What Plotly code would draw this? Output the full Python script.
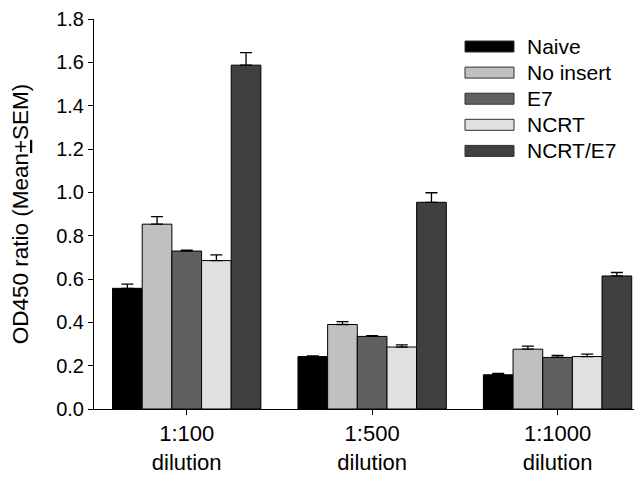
import plotly.graph_objects as go

categories = ["1:100<br>dilution", "1:500<br>dilution", "1:1000<br>dilution"]
series_names = ["Naive", "No insert", "E7", "NCRT", "NCRT/E7"]
series_colors = ["#000000", "#c0c0c0", "#606060", "#e0e0e0", "#404040"]
naive = [0.557, 0.242, 0.158]
no_insert = [0.853, 0.390, 0.276]
e7 = [0.729, 0.335, 0.238]
ncrt = [0.685, 0.286, 0.242]
ncrt_e7 = [1.587, 0.954, 0.614]
naive_sem = [0.019, 0.003, 0.006]
no_insert_sem = [0.035, 0.013, 0.014]
e7_sem = [0.004, 0.003, 0.009]
ncrt_sem = [0.026, 0.010, 0.011]
ncrt_e7_sem = [0.058, 0.044, 0.016]
yticks = [0.0, 0.2, 0.4, 0.6, 0.8, 1.0, 1.2, 1.4, 1.6, 1.8]

values = [naive, no_insert, e7, ncrt, ncrt_e7]
sems = [naive_sem, no_insert_sem, e7_sem, ncrt_sem, ncrt_e7_sem]

FONT = "Liberation Sans, Arial, sans-serif"
OFF = 8  # default page body margin
W, H = 642 - OFF, 483 - OFF
ML, MR, MT, MB = 94 - OFF, 1, 19 - OFF, 74

fig = go.Figure()
xpos = list(range(len(categories)))
for name, color, vals, err in zip(series_names, series_colors, values, sems):
    fig.add_trace(go.Bar(
        x=xpos, y=vals, name=name,
        marker=dict(color=color, line=dict(color="#000000", width=1)),
        error_y=dict(type="data", symmetric=False, array=err,
                     arrayminus=[0] * len(err), color="#000000",
                     thickness=1.3, width=6),
        showlegend=False,
    ))

# manual legend (wide swatches); positions given in page pixels
pw, ph = W - ML - MR, H - MT - MB
def px2paper(x, y):
    return (x - OFF - ML) / pw, (H - MB - (y - OFF)) / ph

row0, dy = 46.5, 26.1
for i, (name, color) in enumerate(zip(series_names, series_colors)):
    cy = row0 + i * dy
    x0, y0 = px2paper(465, cy - 5.5)
    x1, y1 = px2paper(514, cy + 5.5)
    fig.add_shape(type="rect", xref="paper", yref="paper",
                  x0=x0, x1=x1, y0=y1, y1=y0,
                  fillcolor=color, line=dict(color="#303030", width=1))
    tx, ty = px2paper(525, cy)
    fig.add_annotation(xref="paper", yref="paper", x=tx, y=ty,
                       text=name, showarrow=False, xanchor="left",
                       yanchor="middle",
                       font=dict(family=FONT, size=21, color="#000000"))

fig.update_layout(
    width=W, height=H,
    margin=dict(l=ML, r=MR, t=MT, b=MB, pad=0),
    plot_bgcolor="white", paper_bgcolor="white",
    barmode="group", bargap=0.2, bargroupgap=0,
    font=dict(family=FONT, color="#000000"),
    xaxis=dict(range=[-0.5, 2.45], tickmode="array", tickvals=xpos,
               ticktext=categories, ticks="outside", ticklen=5,
               tickcolor="#000000", showline=True, linecolor="#000000",
               linewidth=1, showgrid=False, zeroline=False,
               tickfont=dict(family=FONT, size=22)),
    yaxis=dict(range=[0, 1.8], tickmode="array", tickvals=yticks,
               ticktext=[f"{v:.1f}" for v in yticks], ticks="outside",
               ticklen=5, tickcolor="#000000", showline=True,
               linecolor="#000000", linewidth=1, showgrid=False,
               zeroline=False, tickfont=dict(family=FONT, size=20),
               title=dict(text="OD450 ratio (Mean<u>+</u>SEM)",
                          font=dict(family=FONT, size=22.5), standoff=24)),
)

fig.write_html("out.html")
